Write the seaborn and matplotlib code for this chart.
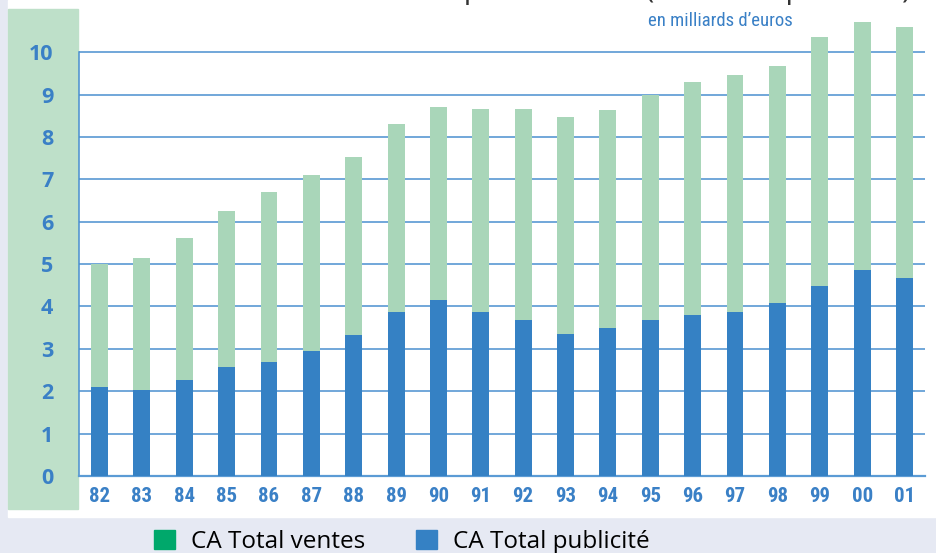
import matplotlib
matplotlib.use("Agg")
import matplotlib.pyplot as plt
from matplotlib.patches import Rectangle, Patch
from matplotlib import font_manager
import pandas as pd
import seaborn as sns

# valeurs (milliards d'euros)
annees = ["82", "83", "84", "85", "86", "87", "88", "89", "90", "91",
          "92", "93", "94", "95", "96", "97", "98", "99", "00", "01"]
publicite = [2.10, 2.02, 2.26, 2.56, 2.70, 2.94, 3.32, 3.88, 4.16, 3.86,
             3.67, 3.36, 3.50, 3.67, 3.79, 3.88, 4.09, 4.49, 4.87, 4.66]
ventes = [2.90, 3.13, 3.36, 3.70, 4.00, 4.16, 4.21, 4.42, 4.54, 4.80,
          4.99, 5.11, 5.14, 5.33, 5.51, 5.58, 5.58, 5.86, 5.83, 5.94]

VERT = "#a9d6b9"
VERT_LEG = "#00a86b"
BLEU = "#3581c4"
BLEU_TXT = "#3a80c6"
GRILLE = "#4a8fd0"

# police etroite si dispo
noms = {f.name for f in font_manager.fontManager.ttflist}
etroite = "DejaVu Sans"
for n in ["Liberation Sans Narrow", "DejaVu Sans Condensed", "Roboto Condensed"]:
    if n in noms:
        etroite = n
        break

df = pd.DataFrame({"annee": annees, "pub": publicite, "ventes": ventes})
df["total"] = df["pub"] + df["ventes"]

W, H = 936, 553
fig = plt.figure(figsize=(W / 100, H / 100), dpi=100, facecolor="#e6e9f3")

# panneau blanc + bandeau vert a gauche
fig.patches.append(Rectangle((8 / W, 1 - 517 / H), 928 / W, 517 / H,
                             transform=fig.transFigure, color="white", zorder=-2))
fig.patches.append(Rectangle((8 / W, 1 - 509 / H), 70 / W, 500 / H,
                             transform=fig.transFigure, color="#bee0c9", zorder=-1))

ax = fig.add_axes([79 / W, 1 - 476 / H, (925 - 79) / W, 476 / H])
ax.set_facecolor("none")

sns.barplot(data=df, x="annee", y="total", color=VERT, saturation=1,
            width=0.4, ax=ax, zorder=3)
sns.barplot(data=df, x="annee", y="pub", color=BLEU, saturation=1,
            width=0.4, ax=ax, zorder=4)

ax.set_xlim(-0.484, 19.484)
ax.set_ylim(0, 11.23)
ax.set_yticks(range(11))
ax.yaxis.grid(True, color=GRILLE, lw=1.1)
ax.xaxis.grid(False)
ax.set_axisbelow(True)
ax.set_xlabel("")
ax.set_ylabel("")

for s in ["top", "right"]:
    ax.spines[s].set_visible(False)
ax.spines["left"].set_bounds(0, 10)
ax.spines["left"].set_color(GRILLE)
ax.spines["bottom"].set_color("#5b9bd5")
ax.spines["left"].set_linewidth(1.1)
ax.spines["bottom"].set_linewidth(1.6)

ax.tick_params(axis="y", length=0, pad=18.5)
ax.tick_params(axis="x", length=0, pad=8)
for lab in ax.get_yticklabels():
    lab.set_fontfamily(["Open Sans", "DejaVu Sans"])
    lab.set_fontweight("bold")
    lab.set_fontsize(15.5)
    lab.set_color(BLEU_TXT)
for lab in ax.get_xticklabels():
    lab.set_fontfamily(etroite)
    lab.set_fontweight("bold")
    lab.set_fontstretch("condensed")
    lab.set_fontsize(15)
    lab.set_color(BLEU_TXT)

fig.text(720 / W, 1 - 21 / H, "en milliards d\u2019euros", color=BLEU_TXT,
         fontsize=13.5, ha="center", va="center", family=etroite,
         fontstretch="condensed")

# titre coupe en haut de l'image
fig.text(505 / W, 1 + 2 / H,
         "Evolution du CA total de la presse \u00e9crite (ventes et publicit\u00e9)",
         color="#333333", fontsize=21, ha="center", va="baseline",
         family=["Open Sans", "DejaVu Sans"])

handles = [Patch(color=VERT_LEG, label="CA Total ventes"),
           Patch(color=BLEU, label="CA Total publicit\u00e9")]
fig.legend(handles=handles, loc="center left", bbox_to_anchor=(154 / W, 1 - 542 / H),
           ncol=2, frameon=False, handlelength=0.86, handleheight=0.86,
           handletextpad=0.66, columnspacing=2.1, borderpad=0, borderaxespad=0,
           prop={"family": "Open Sans", "size": 17.5})

fig.savefig("out.png", dpi=100, facecolor=fig.get_facecolor())
